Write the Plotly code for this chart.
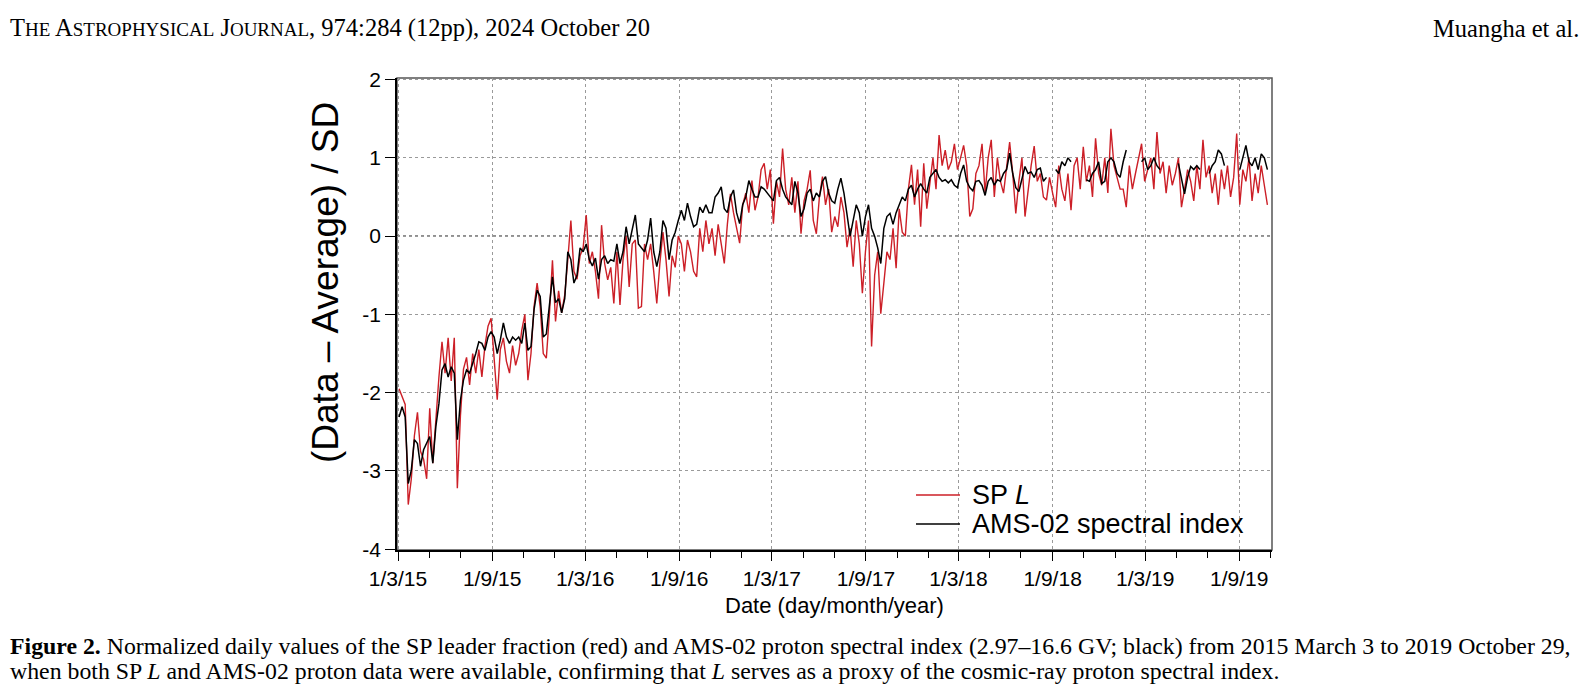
import pandas as pd
import plotly.graph_objects as go

# ---------------- data (6-day sampling from 2015-03-03) ----------------
start_date = "2015-03-03"
step_days = 6

sp_L = [
    -1.95, -2.05, -2.15, -3.43, -3.1, -2.55, -2.25, -2.75, -2.85, -3.1,
    -2.2, -2.9, -2.3, -1.8, -1.35, -1.75, -1.3, -1.85, -1.3, -3.22,
    -2.3, -1.7, -1.55, -1.9, -1.5, -1.75, -1.45, -1.8, -1.4, -1.15,
    -1.05, -1.6, -2.09, -1.45, -1.3, -1.6, -1.75, -1.4, -1.65, -1.5,
    -1.2, -1.0, -1.84, -1.5, -0.9, -0.6, -0.9, -1.5,
    -1.56, -1.0, -0.31, -1.09, -0.7, -0.98, -0.75, -0.3, 0.2, -0.45,
    -0.55, -0.25, -0.15, 0.27, -0.35, -0.2, -0.45, -0.8, 0.14, -0.35,
    -0.56, -0.4, -0.86, -0.2, -0.88, -0.3, 0.0, -0.65, -0.1, -0.05,
    -0.92, -0.9, -0.1, -0.3, -0.1, -0.45, -0.86, -0.35, 0.05, -0.3,
    -0.77, -0.25, -0.4, 0.0, -0.1, -0.45, -0.05,
    -0.2, -0.45, -0.52, 0.1, -0.2, 0.2, -0.1, 0.1, -0.25, 0.15,
    -0.1, -0.35, 0.15, 0.54, 0.3, 0.1, -0.09, 0.4, 0.55, 0.3,
    0.71, 0.33, 0.5, 0.85, 0.93, 0.6, 0.85, 0.16, 0.7, 0.5,
    1.12, 0.6, 0.4, 0.75, 0.3, 0.7, 0.03, 0.45, 0.6, 0.84,
    0.2, 0.03, 0.5, 0.76, 0.4, 0.6, 0.05,
    0.25, 0.12, 0.5, 0.3, -0.14, 0.1, -0.39, 0.2, -0.1, -0.73,
    -0.2, 0.2, -1.41, -0.5, -0.2, -0.99, -0.6, -0.2, -0.3, 0.1,
    -0.41, 0.35, 0.05, 0.0, 0.6, 0.91, 0.4, 0.85, 0.12, 0.93,
    0.35, 0.7, 1.0, 0.6, 1.29, 0.9, 1.1, 0.85, 0.95, 1.18,
    0.85, 1.0, 1.16, 0.9, 0.25, 0.35, 0.8,
    0.9, 1.18, 0.55, 1.0, 1.23, 0.5, 1.0, 0.7, 0.55, 0.9,
    1.2, 0.8, 0.29, 0.7, 1.0, 0.25, 0.6, 0.9, 1.15, 0.7,
    0.8, 0.5, 0.46, 0.75, 0.55, 0.37, 0.9, 0.6, 0.45, 0.8,
    0.33, 0.9, 1.0, 0.6, 1.14, 0.7, 0.9, 0.5, 1.25, 0.8,
    0.65, 1.0, 0.55, 1.37, 0.9, 0.75, 0.6,
    0.6, 0.37, 0.9, 0.6, 0.8, 1.0, 1.18, 0.7, 0.85, 1.0,
    0.6, 1.33, 0.8, 0.95, 0.55, 0.9, 0.65, 0.8, 1.0, 0.37,
    0.6, 0.85, 0.7, 0.45, 0.9, 0.6, 1.23, 0.75, 0.9, 0.55,
    0.8, 0.4, 0.85, 0.6, 0.9, 0.5, 0.75, 1.31, 0.4, 0.85,
    0.7, 1.0, 0.45, 0.8, 0.55, 0.9, 0.65, 0.4,
]

ams_index = [
    -2.31, -2.18, -2.31, -3.16, -2.99, -2.6, -2.65, -2.94, -2.73, -2.65,
    -2.56, -2.9, -2.43, -2.14, -1.71, -1.63, -1.8, -1.67, -1.75, -2.6,
    -2.1, -1.84, -1.71, -1.75, -1.63, -1.5, -1.35, -1.37, -1.46, -1.29,
    -1.22, -1.29, -1.5, -1.33, -1.11, -1.29, -1.37, -1.29, -1.33, -1.29,
    -1.37, -1.11, -1.46, -1.41, -0.94, -0.69, -0.77, -1.29,
    -1.25, -0.9, -0.52, -0.85, -0.8, -0.98, -0.8, -0.2, -0.3, -0.6,
    -0.5, -0.15, -0.2, -0.1, -0.3, -0.38, -0.28, -0.55, -0.3, -0.25,
    -0.35, -0.3, -0.32, -0.1, -0.35, -0.2, 0.12, -0.1, 0.1, 0.27,
    -0.1, -0.15, -0.2, -0.05, 0.23, -0.2, -0.39, -0.2, 0.2, 0.1,
    -0.3, -0.05, 0.05, 0.2, 0.33, 0.2, 0.42,
    0.25, 0.12, 0.15, 0.37, 0.3, 0.4, 0.3, 0.3, 0.5, 0.55,
    0.63, 0.35, 0.3, 0.5, 0.59, 0.3, 0.16, 0.4, 0.5, 0.71,
    0.6, 0.5, 0.5, 0.63, 0.6, 0.55, 0.5, 0.45, 0.71, 0.75,
    0.6, 0.5, 0.45, 0.4, 0.7, 0.55, 0.25, 0.35, 0.55, 0.6,
    0.45, 0.55, 0.5, 0.7, 0.76, 0.55, 0.45,
    0.42, 0.6, 0.74, 0.55, 0.25, 0.0, 0.2, 0.4, 0.3, 0.0,
    0.25, 0.4, 0.1, 0.0, -0.15, -0.35, 0.1, 0.25, 0.29, 0.15,
    0.3, 0.4, 0.5, 0.45, 0.6, 0.65, 0.5, 0.6, 0.67, 0.6,
    0.55, 0.75, 0.8, 0.85, 0.75, 0.7, 0.72, 0.68, 0.72, 0.65,
    0.62, 0.8, 0.91, 0.7, 0.62, 0.58, 0.7,
    0.71, 0.65, 0.52, 0.7, 0.75, 0.65, 0.72, 0.7, 0.8, 0.85,
    1.06, 0.8, 0.62, 0.57, 0.75, 0.89, 0.8, 0.82, 0.75, 0.85,
    0.87, 0.7, 0.75, None, None, 0.85, 0.8, 0.95, 0.9, 1.0,
    0.95, None, None, None, None, 0.72, 0.7, 0.8, 0.85, 0.95,
    0.67, 0.7, 0.95, 1.0, 0.95, 0.8, 0.75,
    0.95, 1.1, None, None, None, None, 0.95, 1.0, 0.85, 0.9,
    1.0, 0.9, 0.85, None, None, None, None, None, 0.93, 0.75,
    0.54, 0.75, 0.89, 0.85, 0.9, 0.85, None, None, 0.8, 0.9,
    0.95, 1.1, 1.05, 0.9, None, None, None, None, 0.85, 1.0,
    1.16, 0.95, 0.9, 1.0, 0.85, 1.05, 1.0, 0.85,
]

dates = pd.date_range(start_date, periods=len(sp_L), freq=f"{step_days}D")

series_names = ["SP <i>L</i>", "AMS-02 spectral index"]

major_tick_dates = ["2015-03-01", "2015-09-01", "2016-03-01", "2016-09-01", "2017-03-01",
                    "2017-09-01", "2018-03-01", "2018-09-01", "2019-03-01", "2019-09-01"]
major_tick_text = ["1/3/15", "1/9/15", "1/3/16", "1/9/16", "1/3/17",
                   "1/9/17", "1/3/18", "1/9/18", "1/3/19", "1/9/19"]
minor_tick_dates = list(pd.date_range("2015-03-01", "2019-11-01", freq="2MS"))
y_tick_vals = [-4, -3, -2, -1, 0, 1, 2]
y_tick_text = ["-4", "-3", "-2", "-1", "0", "1", "2"]

SANS = "Liberation Sans, Arial, Helvetica, sans-serif"
SERIF = "Liberation Serif, Times New Roman, serif"
RED = "#cc1f27"
BLACK = "#000000"

W, H = 1590, 699
L, R, T, B = 397, 318, 78, 149
PW, PH = W - L - R, H - T - B


def px_x(px):
    """page pixel -> paper x"""
    return (px - L) / PW


def px_y(py):
    """page pixel -> paper y"""
    return (H - B - py) / PH


fig = go.Figure()
fig.add_trace(go.Scatter(x=dates, y=sp_L, mode="lines", name=series_names[0],
                         line=dict(color=RED, width=1.4), showlegend=False))
fig.add_trace(go.Scatter(x=dates, y=ams_index, mode="lines", name=series_names[1],
                         line=dict(color=BLACK, width=1.5), connectgaps=False,
                         showlegend=False))

fig.update_layout(
    width=W, height=H,
    margin=dict(l=L, r=R, t=T, b=B, pad=0),
    paper_bgcolor="white", plot_bgcolor="white",
    font=dict(family=SANS, color="black"),
    showlegend=False,
    xaxis=dict(
        type="date",
        range=["2015-02-27", "2019-11-04"],
        tickmode="array", tickvals=major_tick_dates, ticktext=major_tick_text,
        ticks="outside", ticklen=9, tickwidth=1.3, tickcolor="black",
        tickfont=dict(size=21, family=SANS),
        showgrid=True, gridcolor="#9a9a9a", griddash="dot", gridwidth=1,
        showline=True, linecolor="black", linewidth=1.5,
        zeroline=False,
        minor=dict(tickmode="array", tickvals=minor_tick_dates, ticks="outside",
                   ticklen=6, tickwidth=1.3, tickcolor="black", showgrid=False),
    ),
    yaxis=dict(
        range=[-4.01, 2.02],
        tickmode="array", tickvals=y_tick_vals, ticktext=y_tick_text,
        ticks="outside", ticklen=10, tickwidth=1.3, tickcolor="black",
        tickfont=dict(size=21, family=SANS),
        showgrid=True, gridcolor="#9a9a9a", griddash="dot", gridwidth=1,
        showline=True, linecolor="black", linewidth=1.5,
        zeroline=False,
    ),
)

# frame (gray top/right) and dotted zero reference line
fig.add_shape(type="rect", xref="paper", yref="paper", x0=0, x1=1, y0=0, y1=1,
              line=dict(color="#555555", width=1.5), layer="below")
fig.add_shape(type="line", xref="paper", yref="y", x0=0, x1=1, y0=0, y1=0,
              line=dict(color="#222222", width=1.2, dash="dot"), layer="below")

# legend (key lines + labels)
for name, color, width, py in [(series_names[0], RED, 1.6, 495), (series_names[1], BLACK, 1.6, 524)]:
    fig.add_shape(type="line", xref="paper", yref="paper",
                  x0=px_x(916), x1=px_x(960), y0=px_y(py), y1=px_y(py),
                  line=dict(color=color, width=width))
    fig.add_annotation(text=name, xref="paper", yref="paper", x=px_x(970), y=px_y(py),
                       xanchor="left", yanchor="middle", showarrow=False,
                       font=dict(size=27, family=SANS))

# axis titles
fig.add_annotation(text="(Data – Average) / SD", xref="paper", yref="paper",
                   x=px_x(325), y=px_y(283), xanchor="center", yanchor="middle",
                   textangle=-90, showarrow=False, font=dict(size=37, family=SANS))
fig.add_annotation(text="Date (day/month/year)", xref="paper", yref="paper",
                   x=0.5, y=px_y(605), xanchor="center", yanchor="middle",
                   showarrow=False, font=dict(size=22, family=SANS))

# page header
sc = "font-size:19px"
header = (f"T<span style='{sc}'>HE</span> A<span style='{sc}'>STROPHYSICAL</span> "
          f"J<span style='{sc}'>OURNAL</span>, 974:284 (12pp), 2024 October 20")
fig.add_annotation(text=header, xref="paper", yref="paper", x=px_x(8), y=px_y(28),
                   xanchor="left", yanchor="middle", showarrow=False,
                   font=dict(size=24.5, family=SERIF))
fig.add_annotation(text="Muangha et al.", xref="paper", yref="paper", x=px_x(1581), y=px_y(28),
                   xanchor="right", yanchor="middle", showarrow=False,
                   font=dict(size=24.5, family=SERIF))

# caption
cap1 = ("<b>Figure 2.</b> Normalized daily values of the SP leader fraction (red) and AMS-02 proton "
        "spectral index (2.97–16.6 GV; black) from 2015 March 3 to 2019 October 29,")
cap2 = ("when both SP <i>L</i> and AMS-02 proton data were available, confirming that <i>L</i> "
        "serves as a proxy of the cosmic-ray proton spectral index.")
fig.add_annotation(text=cap1, xref="paper", yref="paper", x=px_x(8), y=px_y(646),
                   xanchor="left", yanchor="middle", showarrow=False,
                   font=dict(size=23.8, family=SERIF))
fig.add_annotation(text=cap2, xref="paper", yref="paper", x=px_x(8), y=px_y(671),
                   xanchor="left", yanchor="middle", showarrow=False,
                   font=dict(size=23.8, family=SERIF))

fig.write_html("out.html")
